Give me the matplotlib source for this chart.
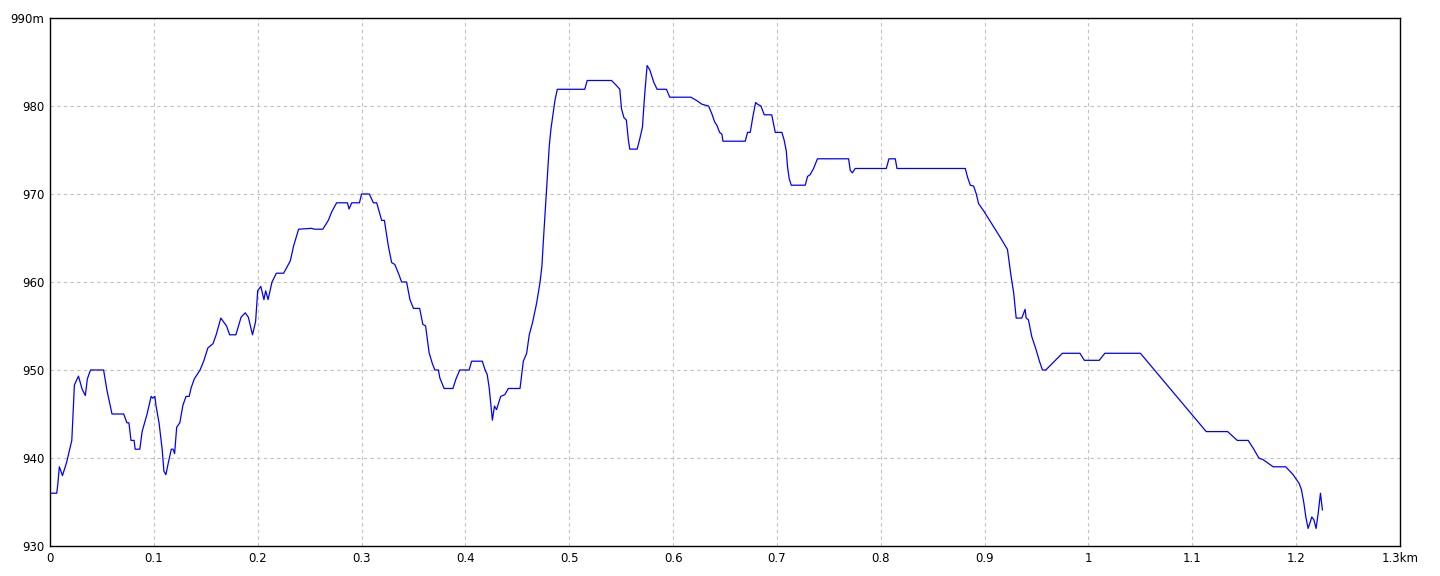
import matplotlib
matplotlib.use("Agg")
import matplotlib.pyplot as plt

# elevation profile (distance km, elevation m)
dist_km = [
    0.0, 0.0065, 0.0075, 0.009, 0.012, 0.016, 0.019, 0.021, 0.0235, 0.0274,
    0.031, 0.034, 0.036, 0.039, 0.0516, 0.055, 0.057, 0.0597, 0.071, 0.074,
    0.076, 0.078, 0.081, 0.082, 0.0865, 0.0887, 0.0935, 0.0974, 0.099, 0.101,
    0.102, 0.105, 0.108, 0.1097, 0.1116, 0.114, 0.1168, 0.1185, 0.12, 0.122,
    0.125, 0.128, 0.131, 0.134, 0.136, 0.139, 0.1445, 0.148, 0.152, 0.157,
    0.16, 0.1645, 0.17, 0.173, 0.179, 0.184, 0.188, 0.191, 0.195, 0.198,
    0.2, 0.203, 0.206, 0.2077, 0.21, 0.2138, 0.218, 0.225, 0.2314, 0.2346,
    0.2394, 0.252, 0.2544, 0.2627, 0.268, 0.2714, 0.276, 0.2864, 0.288, 0.2906,
    0.298, 0.3, 0.3075, 0.3114, 0.3146, 0.3194, 0.322, 0.3258, 0.329, 0.332,
    0.3355, 0.3386, 0.3434, 0.3466, 0.35, 0.356, 0.359, 0.3617, 0.365, 0.368,
    0.3706, 0.374, 0.3754, 0.3795, 0.388, 0.391, 0.3946, 0.4036, 0.406, 0.4163,
    0.419, 0.421, 0.423, 0.426, 0.428, 0.43, 0.434, 0.438, 0.4413, 0.4526,
    0.4558, 0.459, 0.4615, 0.4647, 0.4686, 0.4718, 0.4737, 0.475, 0.477, 0.4788,
    0.4808, 0.4824, 0.4846, 0.4862, 0.4885, 0.515, 0.5173, 0.5407, 0.5449, 0.5487,
    0.5503, 0.5526, 0.555, 0.557, 0.5583, 0.5654, 0.568, 0.5705, 0.5718, 0.573,
    0.575, 0.5776, 0.5814, 0.5846, 0.5936, 0.5968, 0.6172, 0.623, 0.6278, 0.6342,
    0.6374, 0.64, 0.6422, 0.6448, 0.647, 0.648, 0.6695, 0.6717, 0.6743, 0.677,
    0.6795, 0.6814, 0.6846, 0.6878, 0.695, 0.6984, 0.7048, 0.707, 0.709, 0.7103,
    0.7119, 0.7138, 0.7273, 0.7295, 0.732, 0.7353, 0.737, 0.739, 0.769, 0.7706,
    0.7726, 0.7754, 0.8053, 0.8079, 0.814, 0.8156, 0.8814, 0.8836, 0.8862, 0.8894,
    0.892, 0.8942, 0.899, 0.9022, 0.907, 0.9144, 0.922, 0.9253, 0.928, 0.9304,
    0.9358, 0.939, 0.94, 0.9422, 0.9454, 0.9496, 0.9528, 0.9557, 0.9589, 0.9749,
    0.9918, 0.996, 1.0104, 1.0158, 1.05, 1.1134, 1.134, 1.1433, 1.1538, 1.1587,
    1.1641, 1.1683, 1.1779, 1.19, 1.1971, 1.2029, 1.2051, 1.2074, 1.2093, 1.2115,
    1.2138, 1.215, 1.217, 1.2192, 1.2212, 1.2234, 1.2247, 1.2253,
]
elev_m = [
    936.0, 936.0, 937.0, 939.0, 938.0, 939.5, 941.0, 942.0, 948.3, 949.3,
    947.8, 947.1, 949.0, 950.0, 950.0, 947.6, 946.5, 945.0, 945.0, 944.0,
    944.0, 942.0, 942.0, 941.0, 941.0, 943.0, 945.0, 947.0, 946.8, 947.0,
    946.0, 944.0, 941.0, 938.5, 938.1, 939.5, 941.0, 941.0, 940.5, 943.5,
    944.0, 946.0, 947.0, 947.0, 948.0, 949.0, 950.0, 951.0, 952.5, 953.0,
    954.0, 955.9, 955.0, 954.0, 954.0, 956.0, 956.5, 956.0, 954.0, 955.5,
    959.0, 959.5, 958.0, 959.0, 958.0, 960.0, 961.0, 961.0, 962.4, 964.1,
    966.0, 966.1, 966.0, 966.0, 967.0, 968.0, 969.0, 969.0, 968.3, 969.0,
    969.0, 970.0, 970.0, 969.0, 969.0, 967.0, 967.0, 964.1, 962.2, 962.0,
    961.0, 960.0, 960.0, 958.0, 957.0, 957.0, 955.2, 955.0, 952.0, 950.8,
    950.0, 950.0, 949.1, 947.9, 947.9, 949.0, 950.0, 950.0, 951.0, 951.0,
    950.0, 949.5, 947.9, 944.3, 945.9, 945.5, 947.0, 947.2, 947.9, 947.9,
    951.0, 951.9, 954.0, 955.4, 957.6, 959.9, 961.8, 964.5, 968.3, 971.9,
    975.5, 977.4, 979.3, 980.6, 981.9, 981.9, 982.9, 982.9, 982.4, 981.9,
    979.7, 978.7, 978.4, 976.1, 975.1, 975.1, 976.3, 977.6, 979.9, 981.8,
    984.6, 984.1, 982.7, 981.9, 981.9, 981.0, 981.0, 980.6, 980.2, 980.0,
    979.1, 978.2, 977.8, 977.0, 976.8, 976.0, 976.0, 977.0, 977.0, 978.9,
    980.4, 980.2, 980.0, 979.0, 979.0, 977.0, 977.0, 976.1, 974.9, 973.0,
    971.7, 971.0, 971.0, 972.0, 972.2, 972.9, 973.4, 974.0, 974.0, 972.7,
    972.4, 972.9, 972.9, 974.0, 974.0, 972.9, 972.9, 971.9, 971.0, 970.9,
    970.0, 968.9, 968.1, 967.5, 966.6, 965.2, 963.7, 960.8, 958.75, 955.9,
    955.9, 956.9, 955.9, 955.7, 953.8, 952.3, 951.0, 950.0, 950.0, 951.9,
    951.9, 951.1, 951.1, 951.9, 951.9, 943.0, 943.0, 942.0, 942.0, 941.1,
    940.0, 939.8, 939.0, 939.0, 938.1, 937.1, 936.4, 934.9, 933.3, 932.0,
    932.8, 933.3, 933.0, 932.0, 933.7, 936.0, 934.7, 934.1,
]

x_ticks = [0, 0.1, 0.2, 0.3, 0.4, 0.5, 0.6, 0.7, 0.8, 0.9, 1.0, 1.1, 1.2, 1.3]
x_labels = ["0", "0.1", "0.2", "0.3", "0.4", "0.5", "0.6", "0.7", "0.8",
            "0.9", "1", "1.1", "1.2", "1.3km"]
y_ticks = [930, 940, 950, 960, 970, 980, 990]
y_labels = ["930", "940", "950", "960", "970", "980", "990m"]

fig = plt.figure(figsize=(14.4, 5.76), dpi=100)
ax = fig.add_axes([50 / 1440, 1 - 546 / 576, 1350 / 1440, 528 / 576])

ax.plot(dist_km, elev_m, color="#0000ff", linewidth=0.9)

ax.set_xlim(0, 1.3)
ax.set_ylim(930, 990)
ax.set_xticks(x_ticks)
ax.set_xticklabels(x_labels)
ax.set_yticks(y_ticks)
ax.set_yticklabels(y_labels)
ax.tick_params(length=0, labelsize=8.5, pad=4, colors="black")

# grid only inside the frame (skip the border ticks)
for xv in x_ticks[1:-1]:
    ax.axvline(xv, color="#c0c0c0", linewidth=0.8, linestyle=(0, (3, 3)), zorder=0)
for yv in y_ticks[1:-1]:
    ax.axhline(yv, color="#c0c0c0", linewidth=0.8, linestyle=(0, (3, 3)), zorder=0)

for side in ax.spines.values():
    side.set_color("black")
    side.set_linewidth(1.0)

fig.savefig("out.png", dpi=100, facecolor="white")
